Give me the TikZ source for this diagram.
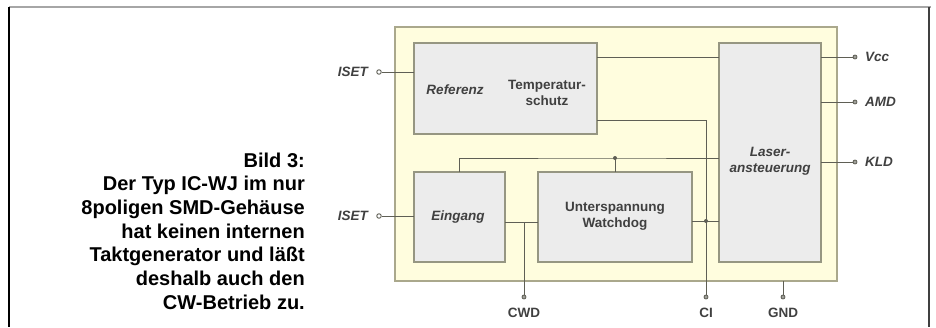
\documentclass[tikz,border=0pt]{standalone}
\usepackage{fontspec}
\setmainfont{Liberation Sans}
\definecolor{boxline}{RGB}{150,150,130}
\definecolor{boxfill}{RGB}{236,236,236}
\definecolor{pkgfill}{RGB}{255,253,222}
\definecolor{pkgline}{RGB}{170,168,140}
\definecolor{wirecol}{RGB}{95,95,85}
\begin{document}
\begin{tikzpicture}[x=1pt,y=-1pt,
  lbl/.style={font=\fontsize{13.5}{16}\selectfont\bfseries, text=black!75, inner sep=0pt, align=center},
  ilbl/.style={lbl, font=\fontsize{13.5}{16}\selectfont\bfseries\itshape},
  block/.style={draw=boxline, fill=boxfill, line width=1.1pt, inner sep=0pt, outer sep=0pt},
  wire/.style={draw=wirecol, line width=1pt},
  openpin/.style={circle, draw=wirecol, fill=white, line width=0.9pt, minimum size=4.5pt, inner sep=0pt},
  pin/.style={circle, draw=wirecol, fill=wirecol!60, line width=0.8pt, minimum size=4pt, inner sep=0pt},
  jdot/.style={circle, fill=wirecol, minimum size=4pt, inner sep=0pt},
  capt/.style={font=\fontsize{20}{23.7}\selectfont\bfseries, align=right, inner sep=0pt}
]
\useasboundingbox (0,0) rectangle (936,327);
% frame
\coordinate (f1) at (9,7);
\coordinate (f2) at (931,7);
\coordinate (f3) at (9,327);
\coordinate (f4) at (929,327);
\draw[gray!70, line width=1.3pt] (f1) -- (f2);
\draw[black, line width=1.2pt] (f1) -- (f3);
\draw[black!75, line width=1.2pt] (f2 -| f4) -- (f4);

% caption
\node[capt, anchor=east] (cap) at (305,231) {Bild 3:\\Der Typ IC-WJ im nur\\8poligen SMD-Gehäuse\\hat keinen internen\\Taktgenerator und läßt\\deshalb auch den\\CW-Betrieb zu.};

% package
\node[draw=pkgline, fill=pkgfill, line width=1.1pt, inner sep=0pt, outer sep=0pt, minimum width=442pt, minimum height=254pt] (pkg) at (616,154) {};

% blocks
\node[block, minimum width=183pt, minimum height=91pt] (ref) at (505.5,88.5) {};
\node[block, minimum width=102pt, minimum height=219pt] (laser) at (770,152.5) {};
\node[block, minimum width=91pt, minimum height=90pt] (ein) at (459.5,217) {};
\node[block, minimum width=154pt, minimum height=90pt] (wd) at (615,217) {};

% block texts
\node[ilbl] (treferenz) at (455,90) {Referenz};
\node[lbl] (ttemp) at (547,93) {Temperatur-\\schutz};
\node[ilbl] (tlaser) at (770,161) {Laser-\\ansteuerung};
\node[ilbl] (tein) at (458,217) {Eingang};
\node[lbl] (twd) at (615,216) {Unterspannung\\Watchdog};

% pins
\node[openpin] (pA) at (379,72) {};
\node[openpin] (pB) at (379,216) {};
\node[pin] (vcc) at (855,57) {};
\node[pin] (amd) at (855,102) {};
\node[pin] (kld) at (855,162) {};
\node[pin] (cwd) at (524,297) {};
\node[pin] (ci) at (706,297) {};
\node[pin] (gnd) at (783,297) {};

% pin labels
\node[ilbl, anchor=east] (lA) at (368,72) {ISET};
\node[ilbl, anchor=east] (lB) at (368,216) {ISET};
\node[ilbl, anchor=west] (lvcc) at (865,57) {Vcc};
\node[ilbl, anchor=west] (lamd) at (865,102) {AMD};
\node[ilbl, anchor=west] (lkld) at (865,162) {KLD};
\node[lbl] (lcwd) at (524,313) {CWD};
\node[lbl] (lci) at (706,313) {CI};
\node[lbl] (lgnd) at (783,313) {GND};

% junctions
\node[jdot] (j1) at (615,158) {};
\node[jdot] (j2) at (706,221) {};
\coordinate (j3) at (524,222);

% wires
\draw[wire] (pA) -- (pA -| ref.west);
\draw[wire] (pB) -- (pB -| ein.west);
\draw[wire] (ref.east |- vcc) -- (laser.west |- vcc);
\draw[wire] ([yshift=14pt]ref.south east) -| (ci);
\draw[wire] (ein.north) |- (j1.center) -- (laser.west |- j1);
\draw[wire] (j1.center) -- (wd.north);
\draw[wire] (ein.east |- j3) -- (wd.west |- j3);
\draw[wire] (j3) -- (cwd);
\draw[wire] (wd.east |- j2) -- (laser.west |- j2);
\draw[wire] (pkg.south -| gnd) -- (gnd);
\draw[wire] (laser.east |- vcc) -- (vcc);
\draw[wire] (laser.east |- amd) -- (amd);
\draw[wire] (laser.east |- kld) -- (kld);
\end{tikzpicture}
\end{document}
